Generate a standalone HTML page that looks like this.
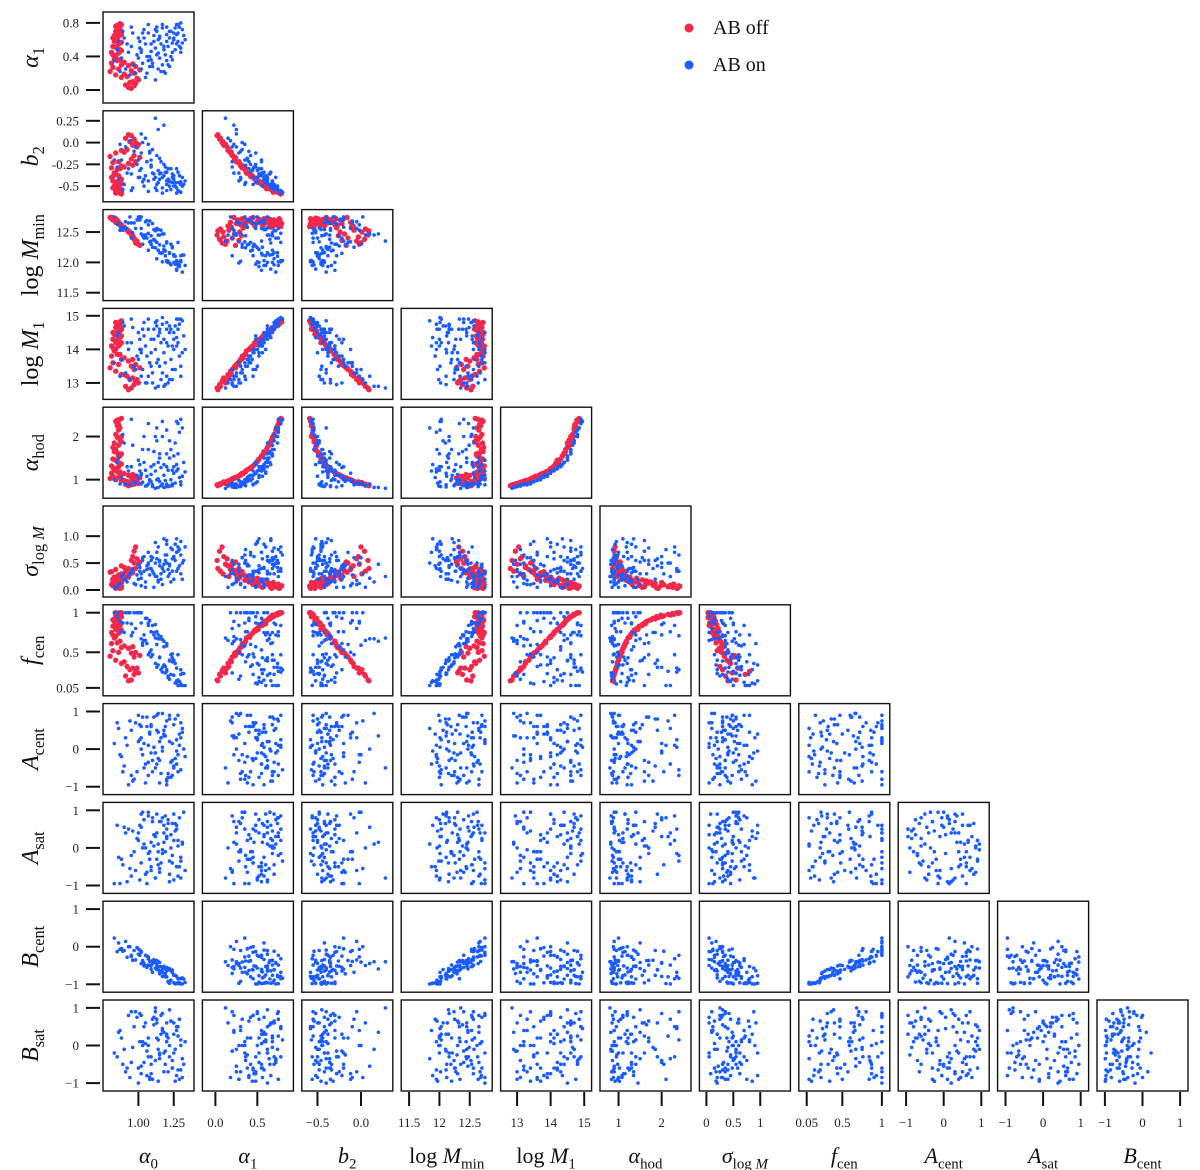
<!DOCTYPE html>
<html><head><meta charset="utf-8"><style>
html,body{margin:0;padding:0;background:#fff;}
svg{display:block;font-family:"Liberation Serif",serif;}
</style></head><body>
<svg id="chart" width="1200" height="1170" viewBox="0 0 1200 1170" xmlns="http://www.w3.org/2000/svg">
<g>
<circle cx="689" cy="28" r="4.5" fill="#f2294b"/>
<text x="713" y="34" font-size="20" fill="#111">AB off</text>
<circle cx="689" cy="65" r="4.5" fill="#1a5cff"/>
<text x="713" y="71" font-size="20" fill="#111">AB on</text>
</g>
</svg>
<script>
const paramNames=["alpha0","alpha1","b2","logMmin","logM1","alphahod","sigmalogM","fcen","Acent","Asat","Bcent","Bsat"];
const rangeLo=[0.75,-0.155,-0.68,11.37,12.51,0.57,-0.13,-0.05,-1.21,-1.21,-1.21,-1.21];
const rangeHi=[1.393,0.93,0.365,12.87,15.22,2.68,1.56,1.10,1.21,1.21,1.21,1.21];
const xTickVals=[[1.0,1.25],[0,0.5],[-0.5,0],[11.5,12,12.5],[13,14,15],[1,2],[0,0.5,1],[0.05,0.5,1],[-1,0,1],[-1,0,1],[-1,0,1],[]];
const xTickLabels=[["1.00","1.25"],["0.0","0.5"],["\u22120.5","0.0"],["11.5","12","12.5"],["13","14","15"],["1","2"],["0","0.5","1"],["0.05","0.5","1"],["\u22121","0","1"],["\u22121","0","1"],["\u22121","0","1"],[]];
const yTickVals=[[],[0,0.4,0.8],[-0.5,-0.25,0,0.25],[11.5,12,12.5],[13,14,15],[1,2],[0,0.5,1],[0.05,0.5,1],[-1,0,1],[-1,0,1],[-1,0,1],[-1,0,1]];
const yTickLabels=[[],["0.0","0.4","0.8"],["-0.5","-0.25","0.0","0.25"],["11.5","12.0","12.5"],["13","14","15"],["1","2"],["0.0","0.5","1.0"],["0.05","0.5","1"],["\u22121","0","1"],["\u22121","0","1"],["\u22121","0","1"],["\u22121","0","1"]];

const redA0=[0.95,0.97,0.93,0.98,0.91,0.96,1.00,0.94,0.88,0.99,0.84,0.92,0.97,0.80,0.90,0.86,1.01,0.82,0.95,0.88,0.93,0.81,0.98,0.85,0.90,0.83,0.96,0.84,0.87,0.82,0.86,0.83,0.88,0.81,0.85,0.87,0.82,0.86,0.84,0.88,0.83,0.85,0.87,0.82,0.86,0.84,0.88,0.83,0.85,0.87,0.84,0.86,0.88,0.85,0.87,0.84,0.86,0.88,0.85,0.87];
const redA1=[0.02,0.05,0.03,0.08,0.06,0.10,0.12,0.09,0.15,0.14,0.18,0.16,0.20,0.22,0.19,0.25,0.24,0.27,0.23,0.30,0.29,0.32,0.28,0.35,0.33,0.37,0.31,0.40,0.36,0.42,0.44,0.41,0.47,0.45,0.50,0.48,0.52,0.55,0.51,0.57,0.58,0.60,0.56,0.62,0.64,0.61,0.66,0.65,0.68,0.67,0.70,0.72,0.69,0.74,0.73,0.76,0.75,0.78,0.77,0.79];
const redB2=[0.08,0.04,0.09,0.00,0.05,-0.03,-0.02,0.01,-0.09,-0.05,-0.12,-0.08,-0.15,-0.16,-0.11,-0.22,-0.17,-0.23,-0.19,-0.27,-0.24,-0.29,-0.22,-0.31,-0.28,-0.35,-0.26,-0.36,-0.30,-0.39,-0.38,-0.35,-0.42,-0.40,-0.45,-0.41,-0.44,-0.48,-0.46,-0.47,-0.50,-0.49,-0.46,-0.52,-0.51,-0.53,-0.54,-0.52,-0.55,-0.53,-0.56,-0.55,-0.57,-0.57,-0.55,-0.58,-0.56,-0.59,-0.57,-0.58];
const redMmin=[12.45,12.38,12.52,12.32,12.55,12.42,12.30,12.50,12.60,12.35,12.66,12.53,12.40,12.74,12.58,12.64,12.28,12.70,12.47,12.62,12.50,12.72,12.36,12.66,12.57,12.70,12.44,12.68,12.62,12.72,12.65,12.70,12.60,12.74,12.67,12.63,12.71,12.65,12.69,12.61,12.72,12.66,12.62,12.73,12.64,12.69,12.58,12.71,12.67,12.63,12.70,12.65,12.60,12.68,12.62,12.72,12.66,12.59,12.70,12.64];
const redM1=[12.85,12.95,12.80,13.05,12.90,13.15,13.00,13.10,13.25,13.10,13.35,13.20,13.40,13.45,13.25,13.55,13.45,13.60,13.50,13.70,13.65,13.80,13.55,13.85,13.75,13.95,13.70,14.00,13.85,14.05,14.10,14.00,14.20,14.10,14.25,14.15,14.30,14.35,14.20,14.40,14.45,14.40,14.35,14.50,14.55,14.45,14.60,14.50,14.65,14.55,14.65,14.70,14.60,14.75,14.70,14.80,14.72,14.85,14.78,14.82];
const redAhod=[0.88,0.90,0.86,0.92,0.89,0.95,0.91,0.93,0.97,0.94,1.00,0.96,1.02,1.03,0.98,1.06,1.04,1.08,1.05,1.12,1.10,1.15,1.08,1.18,1.14,1.22,1.12,1.25,1.18,1.28,1.30,1.26,1.36,1.32,1.42,1.38,1.48,1.55,1.45,1.60,1.65,1.62,1.55,1.75,1.80,1.70,1.88,1.85,1.98,1.92,2.05,2.15,2.00,2.25,2.20,2.35,2.28,2.42,2.38,2.40];
const redSig=[0.55,0.72,0.40,0.80,0.35,0.62,0.48,0.30,0.45,0.58,0.38,0.25,0.50,0.33,0.42,0.28,0.52,0.20,0.36,0.30,0.24,0.34,0.40,0.18,0.28,0.22,0.32,0.15,0.26,0.20,0.12,0.24,0.18,0.10,0.22,0.16,0.08,0.19,0.14,0.06,0.17,0.11,0.05,0.15,0.09,0.13,0.04,0.12,0.08,0.03,0.10,0.06,0.14,0.05,0.09,0.03,0.11,0.07,0.04,0.08];
const redFcen=[0.15,0.22,0.14,0.26,0.20,0.30,0.24,0.28,0.36,0.30,0.40,0.32,0.44,0.45,0.38,0.50,0.46,0.52,0.49,0.56,0.55,0.61,0.50,0.62,0.58,0.68,0.57,0.70,0.64,0.72,0.74,0.69,0.78,0.75,0.80,0.77,0.83,0.85,0.79,0.87,0.89,0.86,0.84,0.91,0.93,0.90,0.95,0.92,0.97,0.94,0.96,0.98,0.95,0.99,0.97,1.00,0.98,1.00,0.99,1.00];

const blueA0=[1.02,1.15,1.28,0.92,1.20,1.08,1.25,0.98,1.12,1.30,1.05,1.18,0.88,1.22,1.10,1.00,1.27,1.14,0.95,1.32,1.06,1.20,1.16,0.85,1.24,1.03,1.12,1.29,0.97,1.18,1.09,1.25,0.90,1.13,1.21,1.01,1.31,1.07,1.17,0.94,1.23,1.04,1.14,1.28,0.99,1.19,1.11,1.26,0.86,1.15,1.02,1.30,1.09,1.22,0.96,1.17,1.27,1.05,1.13,1.24,0.83,1.20,1.10,1.29,1.00,1.16,1.07,1.33,0.93,1.19,1.04,1.26,1.12,0.91,1.21,1.08,1.23,1.15,1.03,1.30,1.11,0.89,1.18,1.25,1.01,1.14,1.27,1.06,1.20,0.95,1.17,1.09,1.28,1.02,1.22,1.13,0.87,1.24,1.07,1.31];
const blueA1=[0.45,0.62,0.78,0.55,0.35,0.28,0.60,0.20,0.72,0.50,0.15,0.48,0.38,0.70,0.32,0.62,0.55,0.25,0.75,0.65,0.40,0.58,0.22,0.48,0.45,0.68,0.12,0.75,0.30,0.52,0.55,0.68,0.62,0.42,0.30,0.50,0.72,0.35,0.78,0.18,0.40,0.72,0.60,0.58,0.42,0.20,0.65,0.48,0.58,0.38,0.25,0.80,0.46,0.62,0.68,0.30,0.66,0.55,0.70,0.36,0.35,0.75,0.28,0.52,0.38,0.55,0.78,0.60,0.45,0.42,0.62,0.74,0.50,0.25,0.52,0.40,0.70,0.64,0.32,0.45,0.58,0.70,0.22,0.62,0.58,0.44,0.78,0.20,0.66,0.52,0.74,0.36,0.68,0.48,0.28,0.75,0.22,0.56,0.68,0.56];
const blueB2=[-0.30,-0.42,-0.55,-0.35,-0.48,-0.12,-0.38,-0.05,-0.52,-0.45,0.05,-0.25,-0.20,-0.50,-0.08,-0.40,-0.30,0.15,-0.55,-0.48,-0.22,-0.44,-0.35,-0.28,-0.40,-0.45,0.28,-0.56,-0.10,-0.38,-0.20,-0.50,-0.48,-0.15,-0.42,-0.32,-0.40,-0.02,-0.58,0.02,-0.30,-0.50,-0.46,-0.34,-0.25,-0.28,-0.36,-0.46,-0.42,-0.18,0.10,-0.57,-0.28,-0.45,-0.52,-0.40,-0.52,-0.38,-0.48,-0.46,-0.20,-0.55,-0.35,-0.38,-0.20,-0.22,-0.56,-0.44,-0.30,-0.34,-0.42,-0.50,-0.40,-0.05,-0.30,-0.10,-0.54,-0.36,0.00,-0.48,-0.42,-0.54,0.20,-0.42,-0.40,-0.32,-0.58,-0.22,-0.34,-0.36,-0.52,-0.26,-0.46,-0.12,-0.44,-0.55,-0.02,-0.36,-0.44,-0.50];
const blueMmin=[12.75,12.16,12.33,12.56,12.34,12.34,12.11,12.56,12.52,12.01,12.45,12.27,12.58,12.16,12.25,12.75,11.87,12.45,12.40,12.12,12.69,12.03,12.53,12.63,12.26,12.44,12.35,11.95,12.65,12.21,12.35,12.13,12.57,12.33,12.02,12.75,11.84,12.62,12.01,12.75,12.30,12.40,12.54,11.95,12.70,12.11,12.38,11.97,12.65,12.29,12.47,12.03,12.30,12.15,12.49,12.47,11.89,12.67,12.06,12.24,12.75,12.01,12.64,11.93,12.70,12.15,12.48,11.95,12.65,12.19,12.45,12.10,12.24,12.67,12.00,12.68,11.96,12.45,12.30,12.11,12.54,12.53,12.47,12.00,12.70,12.20,12.03,12.40,12.32,12.65,12.16,12.44,12.00,12.56,11.99,12.56,12.53,12.25,12.20,12.12];
const blueM1=[13.9,14.6,14.9,14.2,13.2,13.6,14.0,13.4,14.8,13.5,13.0,14.3,13.7,14.7,13.3,14.5,14.1,12.9,14.9,14.4,13.8,14.2,13.1,14.4,13.4,14.6,12.85,14.75,13.5,13.9,14.3,14.5,14.7,13.6,13.0,14.0,14.85,13.2,14.95,13.1,13.7,14.8,14.4,14.2,13.8,12.95,14.6,13.4,14.5,13.5,13.2,14.9,13.9,14.5,14.65,13.3,14.35,14.1,14.7,13.1,13.6,14.8,13.0,13.8,13.7,14.2,14.9,14.0,14.0,13.6,14.4,14.7,14.0,13.3,14.1,13.6,14.6,14.5,13.4,13.2,14.3,14.8,12.9,14.3,14.3,13.7,14.9,13.0,14.6,14.2,14.75,13.5,14.6,14.0,13.1,14.85,13.2,14.1,14.6,13.9];
const blueAhod=[1.10,1.6,2.3,1.3,0.9,0.98,1.15,0.92,2.0,0.95,0.85,1.35,1.05,1.9,0.88,1.45,1.2,0.82,2.4,1.4,1.08,1.3,0.86,1.4,0.9,1.7,0.8,2.1,0.95,1.1,1.3,1.55,1.85,1.0,0.84,1.2,2.2,0.9,2.35,0.88,1.0,2.0,1.4,1.25,1.1,0.83,1.65,0.92,1.5,0.96,0.9,2.4,1.12,1.5,1.8,0.9,1.35,1.22,1.9,0.86,1.0,2.15,0.84,1.05,1.02,1.28,2.3,1.18,1.2,0.98,1.4,1.85,1.2,0.9,1.22,1.0,1.7,1.5,0.94,0.88,1.35,2.05,0.82,1.3,1.35,1.02,2.35,0.86,1.6,1.3,2.0,0.95,1.6,1.15,0.85,2.2,0.9,1.22,1.7,1.08];
const blueSig=[0.30,0.55,0.80,0.15,0.65,0.40,0.20,0.10,0.50,0.90,0.05,0.35,0.25,0.45,0.60,0.20,0.70,0.15,0.35,0.55,0.45,0.85,0.30,0.05,0.35,0.55,0.25,0.75,0.12,0.95,0.40,0.60,0.20,0.70,0.25,0.35,0.50,0.50,0.40,0.30,0.15,0.62,0.80,0.40,0.28,0.55,0.30,0.85,0.10,0.45,0.22,0.65,0.62,0.30,0.40,0.10,0.95,0.15,0.58,0.75,0.05,0.50,0.35,0.45,0.48,0.20,0.70,0.80,0.25,0.65,0.35,0.55,0.88,0.18,0.38,0.28,0.78,0.52,0.60,0.30,0.05,0.30,0.48,0.62,0.42,0.18,0.35,0.38,0.92,0.32,0.42,0.55,0.72,0.08,0.48,0.25,0.12,0.58,0.48,0.20];
const blueFcen=[1.00,0.43,0.47,0.87,0.58,0.50,0.40,0.80,0.85,0.10,0.65,0.57,0.76,0.40,0.47,1.00,0.12,0.67,0.71,0.23,0.93,0.28,0.70,0.95,0.48,0.62,0.68,0.08,1.00,0.34,0.53,0.40,0.75,0.60,0.20,1.00,0.08,0.87,0.25,1.00,0.47,0.72,0.72,0.15,1.00,0.24,0.72,0.11,1.00,0.44,0.67,0.28,0.44,0.39,0.75,0.66,0.14,0.93,0.31,0.38,1.00,0.26,0.84,0.13,1.00,0.28,0.84,0.08,1.00,0.32,0.65,0.36,0.36,1.00,0.18,0.90,0.22,0.67,0.59,0.22,0.75,0.87,0.64,0.21,1.00,0.34,0.30,0.61,0.61,0.86,0.31,0.76,0.08,0.87,0.16,0.76,0.89,0.43,0.47,0.23];
const blueAc=[0.6,-0.3,0.9,0.1,-0.8,0.4,-0.5,0.7,-0.1,0.3,-0.9,0.5,-0.2,0.8,-0.6,0.2,-0.4,0.95,-0.7,0.0,0.6,-0.95,0.3,0.7,-0.3,0.85,-0.5,0.1,-0.8,0.4,-0.1,0.65,-0.45,0.9,-0.65,0.25,0.55,-0.35,0.05,0.75,-0.75,0.15,0.45,-0.15,-0.6,0.35,0.85,-0.25,0.55,-0.9,0.0,-0.55,0.65,0.2,-0.85,0.95,-0.05,-0.4,0.5,-0.7,0.15,0.75,-0.3,0.4,0.9,-0.65,0.1,-0.2,-0.95,0.6,-0.5,0.8,-0.1,0.3,-0.75,0.45,-0.35,0.2,-0.15,0.7,0.05,-0.6,0.35,-0.45,0.65,-0.25,0.25,0.85,-0.85,0.5,-0.05,0.6,-0.6,0.3,0.9,-0.4,-0.15,0.15,-0.7,0.45];
const blueAs=[-0.4,0.7,0.2,-0.9,0.5,-0.1,0.9,-0.6,0.3,-0.8,0.0,0.6,-0.3,-0.7,0.8,0.4,-0.5,0.1,-0.2,0.95,-0.95,0.3,0.7,0.6,-0.4,0.0,-0.8,0.8,-0.1,0.4,-0.6,0.2,0.55,-0.3,0.65,-0.85,0.1,0.95,-0.15,-0.55,0.35,0.75,-0.45,-0.75,0.25,0.85,0.05,0.45,-0.25,-0.65,0.55,-0.35,0.15,-0.9,0.45,-0.05,0.6,-0.7,0.9,-0.2,-0.95,0.3,0.7,-0.5,0.2,-0.4,0.85,-0.6,0.5,-0.1,0.1,0.65,-0.8,0.4,0.75,-0.3,0.0,-0.55,0.95,-0.25,0.35,-0.45,0.15,-0.85,0.6,-0.1,0.5,-0.65,0.25,-0.75,0.8,-0.5,0.05,0.9,-0.35,0.4,-0.95,0.65,-0.15,0.15];
const blueBc=[-0.15,-0.65,-0.85,-0.28,-0.55,-0.50,-0.75,-0.35,-0.42,-0.99,-0.50,-0.52,-0.05,-0.62,-0.68,-0.20,-0.98,-0.40,-0.23,-0.86,-0.25,-0.80,-0.53,-0.13,-0.62,-0.37,-0.40,-0.98,-0.10,-0.77,-0.60,-0.76,-0.10,-0.37,-0.92,-0.23,-0.99,-0.27,-0.68,0.00,-0.63,-0.44,-0.53,-0.97,-0.02,-0.71,-0.37,-0.99,0.10,-0.72,-0.45,-0.84,-0.51,-0.58,-0.36,-0.57,-0.97,-0.23,-0.61,-0.68,0.23,-0.80,-0.45,-0.96,-0.06,-0.65,-0.32,-0.95,0.00,-0.80,-0.51,-0.76,-0.57,0.14,-0.94,-0.39,-0.89,-0.42,-0.41,-0.85,-0.34,-0.12,-0.59,-0.96,-0.09,-0.61,-0.79,-0.55,-0.64,-0.26,-0.79,-0.38,-0.96,-0.13,-0.97,-0.49,-0.07,-0.67,-0.49,-0.83];
const blueBs=[0.8,-0.2,0.5,-0.6,0.1,-0.9,0.3,0.9,-0.4,0.0,0.6,-0.7,0.2,-0.3,0.7,-1.0,0.4,-0.1,0.9,-0.5,-0.8,0.3,0.8,-0.3,-0.6,0.1,1.0,-0.9,0.5,-0.2,-0.5,0.6,-0.1,0.2,-0.7,0.85,-0.35,0.0,0.45,-0.85,0.65,-0.45,0.15,-0.65,0.75,-0.15,0.55,-0.95,0.35,-0.25,-0.55,0.15,-0.75,0.95,-0.05,0.4,-0.8,0.05,0.6,-0.4,-0.2,0.25,-0.9,0.7,-0.6,0.3,-0.3,0.1,0.8,-0.5,0.5,-0.1,0.9,-0.7,0.2,-0.85,0.65,-0.35,0.0,-0.65,0.75,-0.5,0.35,-0.2,0.1,-0.95,0.5,-0.15,0.6,-0.45,0.85,-0.3,0.25,-0.75,0.0,0.7,0.4,-0.6,0.2,-0.85];

const redSet=[redA0,redA1,redB2,redMmin,redM1,redAhod,redSig,redFcen,null,null,null,null];
const blueSet=[blueA0,blueA1,blueB2,blueMmin,blueM1,blueAhod,blueSig,blueFcen,blueAc,blueAs,blueBc,blueBs];

const NS="http://www.w3.org/2000/svg";
const svg=document.getElementById('chart');
const PX0=103, PDX=99.4, PY0=12, PDY=98.8, PS=91;
function mk(tag,attrs,parent){const e=document.createElementNS(NS,tag);for(const k in attrs)e.setAttribute(k,attrs[k]);(parent||svg).appendChild(e);return e;}
function colLeft(j){return PX0+PDX*j;}
function rowTop(i){return PY0+PDY*i;}
function sx(v,p,j){return colLeft(j)+(v-rangeLo[p])/(rangeHi[p]-rangeLo[p])*PS;}
function sy(v,p,i){return rowTop(i)+PS-(v-rangeLo[p])/(rangeHi[p]-rangeLo[p])*PS;}

for(let i=0;i<11;i++){
  const py=i+1;
  for(let j=0;j<=i;j++){
    const px=j;
    const g=mk('g',{});
    
    
    const sets=[[redSet,'#f2294b',2.7,'red'],[blueSet,'#1a5cff',1.8,'blue']];
    for(const [set,col,r,nm] of sets){
      const X=set[px],Y=set[py];
      if(!X||!Y)continue;
      for(let k=0;k<X.length;k++){
        const cx=sx(X[k],px,j),cy=sy(Y[k],py,i);
        if(cx<colLeft(j)+1||cx>colLeft(j)+PS-1||cy<rowTop(i)+1||cy>rowTop(i)+PS-1)continue;
        const c=mk('circle',{cx:cx.toFixed(1),cy:cy.toFixed(1),r:r,fill:col},g);
        
        
      }
    }
    const fr=mk('rect',{x:colLeft(j),y:rowTop(i),width:PS,height:PS,fill:'none',stroke:'#111','stroke-width':1.4},g);
    
    
  }
}
const yLabelParts=[null,[['α','i'],['1','s']],[['b','i'],['2','s']],[['log ',''],['M','i'],['min','s']],[['log ',''],['M','i'],['1','s']],[['α','i'],['hod','s']],[['σ','i'],['log','s'],[' M','si']],[['f','i'],['cen','s']],[['A','i'],['cent','s']],[['A','i'],['sat','s']],[['B','i'],['cent','s']],[['B','i'],['sat','s']]];
function addLabel(parent,parts,size){
  let sub=false;
  for(const [t,k] of parts){
    const ts=mk('tspan',{},parent);
    ts.textContent=t;
    if(k.indexOf('i')>=0)ts.setAttribute('font-style','italic');
    if(k.indexOf('s')>=0){ts.setAttribute('font-size',size*0.68);if(!sub){ts.setAttribute('dy',size*0.25);sub=true;}}
  }
}
for(let i=0;i<11;i++){
  const p=i+1;
  const ya=mk('g',{});
  
  
  yTickVals[p].forEach((v,k)=>{
    const y=sy(v,p,i);
    const t=mk('line',{x1:86,x2:100,y1:y,y2:y,stroke:'#111','stroke-width':2},ya);
    
    
    const tl=mk('text',{x:79,y:y+4.5,'text-anchor':'end','font-size':13,fill:'#222'},ya);
    tl.textContent=yTickLabels[p][k];
    
    
  });
  const cy=rowTop(i)+PS/2;
  const tt=mk('text',{x:0,y:0,'text-anchor':'middle','font-size':24,fill:'#111',transform:'translate(38,'+cy+') rotate(-90)'},ya);
  
  
  addLabel(tt,yLabelParts[p],24);
}
const xLabelParts=[[['α','i'],['0','s']],[['α','i'],['1','s']],[['b','i'],['2','s']],[['log ',''],['M','i'],['min','s']],[['log ',''],['M','i'],['1','s']],[['α','i'],['hod','s']],[['σ','i'],['log','s'],[' M','si']],[['f','i'],['cen','s']],[['A','i'],['cent','s']],[['A','i'],['sat','s']],[['B','i'],['cent','s']]];
for(let j=0;j<11;j++){
  const xa=mk('g',{});
  
  
  xTickVals[j].forEach((v,k)=>{
    const x=sx(v,j,j);
    const t=mk('line',{x1:x,x2:x,y1:1092,y2:1106,stroke:'#111','stroke-width':2},xa);
    
    
    const tl=mk('text',{x:x,y:1127,'text-anchor':'middle','font-size':13,fill:'#222'},xa);
    tl.textContent=xTickLabels[j][k];
    
    
  });
  const tt=mk('text',{x:colLeft(j)+PS/2,y:1163,'text-anchor':'middle','font-size':22,fill:'#111'},xa);
  
  
  addLabel(tt,xLabelParts[j],22);
}
</script>
</body></html>
